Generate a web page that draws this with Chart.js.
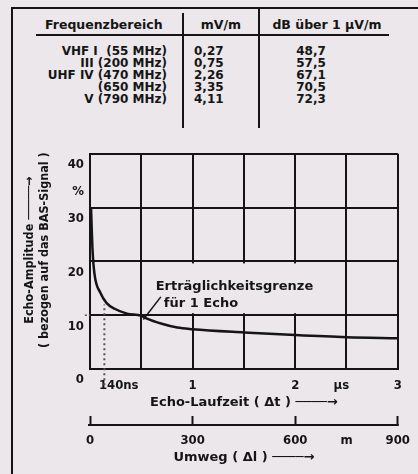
<!DOCTYPE html>
<html>
<head>
<meta charset="utf-8">
<script src="https://cdn.jsdelivr.net/npm/chart.js@4.4.0/dist/chart.umd.min.js"></script>
<style>
body { margin:0; width:418px; height:474px; background:#ebe7ea; overflow:hidden; position:relative;
  font-family:'DejaVu Sans','DejaVu Sans Condensed',sans-serif; font-weight:bold; color:#151515; }
.rahmen { position:absolute; left:11px; top:7px; right:-5px; bottom:-5px; border-top:2px solid #151515; border-left:2px solid #151515; }
.zelle { position:absolute; font-size:12px; line-height:11.9px; white-space:pre; }
.kopf { position:absolute; top:17px; font-size:12.5px; white-space:pre; }
.strich { position:absolute; background:#151515; }
#diagramm { position:absolute; left:0; top:140px; }
</style>
</head>
<body>
<div class="rahmen"></div>
<div class="kopf" style="left:45px">Frequenzbereich</div>
<div class="kopf" style="left:181px;width:80px;text-align:center">mV/m</div>
<div class="kopf" style="left:262px;width:130px;text-align:center">dB über 1 µV/m</div>
<div class="strich" style="left:36px;top:34px;width:353px;height:2px"></div>
<div class="strich" style="left:182px;top:13px;width:2px;height:115px"></div>
<div class="strich" style="left:258px;top:8px;width:2px;height:120px"></div>
<div class="zelle" id="spalte1" style="left:10px;top:46px;width:157px;text-align:right"></div>
<div class="zelle" id="spalte2" style="left:194px;top:46px"></div>
<div class="zelle" id="spalte3" style="left:280px;top:46px;width:62px;text-align:center"></div>
<canvas id="diagramm" width="418" height="334"></canvas>
<script>
// Tabelle
const bereiche = ['VHF I  (55 MHz)', 'III (200 MHz)', 'UHF IV (470 MHz)', '(650 MHz)', 'V (790 MHz)'];
const feldstaerke = ['0,27', '0,75', '2,26', '3,35', '4,11'];
const pegel = ['48,7', '57,5', '67,1', '70,5', '72,3'];

document.getElementById('spalte1').textContent = bereiche.join('\n');
document.getElementById('spalte2').textContent = feldstaerke.join('\n');
document.getElementById('spalte3').textContent = pegel.join('\n');

// Echo-Kurve (µs / %)
const laufzeit = [0.01, 0.025, 0.045, 0.1, 0.16, 0.24, 0.36, 0.5, 0.55, 0.7, 0.85, 1, 1.5, 2, 2.5, 3];
const amplitude = [30, 22, 17.5, 14.2, 12.3, 11.2, 10.3, 9.9, 9.4, 8.4, 7.7, 7.4, 6.8, 6.3, 5.9, 5.7];

// Achsen
const zeitTicks = [0, 0.28, 0.5, 1, 1.5, 2, 2.45, 2.5, 3];
const zeitLabels = ['', '140ns', '', '1', '', '2', 'µs', '', '3'];
const zeitLinie = [true, false, true, true, true, true, false, true, true];
const ampTicks = [0, 10, 20, 30, 35, 40];
const ampLabels = ['0', '10', '20', '30', '%', '40'];
const ampLinie = [true, true, true, true, false, true];
const umwegTicks = [0, 300, 600, 750, 900];
const umwegLabels = ['0', '300', '600', 'm', '900'];
const umwegStrich = [true, true, true, false, true];

const grenzeZeit = 0.14; // 140 ns
const hinweisPfeil = [{x: 0.69, y: 13.4}, {x: 0.52, y: 9.2}];
const grenzeLinks = [{x: -0.05, y: 10}, {x: 0, y: 10}];

const schwarz = '#151515';
const schmal = "'DejaVu Sans Condensed', 'DejaVu Sans', sans-serif";
const breit = "'DejaVu Sans', sans-serif";

// Textfeld "Erträglichkeitsgrenze"
const hinweis = {
    id: 'hinweis',
    beforeDatasetsDraw(chart) {
        const {ctx, scales: {x, y}} = chart;
        ctx.save();
        ctx.fillStyle = '#ebe7ea';
        ctx.fillRect(x.getPixelForValue(0.5) + 2, y.getPixelForValue(20) + 2,
            x.getPixelForValue(2.5) - x.getPixelForValue(0.5) - 4, y.getPixelForValue(10) - y.getPixelForValue(20) - 4);
        ctx.fillStyle = schwarz;
        ctx.font = 'bold 13px ' + breit;
        ctx.textBaseline = 'middle';
        ctx.fillText('Erträglichkeitsgrenze', x.getPixelForValue(0.64), y.getPixelForValue(15.4));
        ctx.fillText('für 1 Echo', x.getPixelForValue(0.72), y.getPixelForValue(12.1));
        ctx.restore();
    },
    afterDraw(chart) {
        // Grundlinie der Umweg-Skala
        const s = chart.scales.x2, ctx = chart.ctx;
        ctx.save();
        ctx.strokeStyle = schwarz;
        ctx.lineWidth = 2;
        ctx.beginPath();
        ctx.moveTo(s.getPixelForValue(0) - 2, s.top + 9);
        ctx.lineTo(s.getPixelForValue(900) + 1, s.top + 9);
        ctx.stroke();
        ctx.restore();
    }
};

new Chart(document.getElementById('diagramm'), {
    type: 'line',
    data: {
        datasets: [
            {
                data: laufzeit.map((t, i) => ({x: t, y: amplitude[i]})),
                borderColor: schwarz,
                borderWidth: 2.5,
                pointRadius: 0,
                cubicInterpolationMode: 'monotone'
            },
            {
                data: [{x: grenzeZeit, y: -3}, {x: grenzeZeit, y: 12}],
                borderColor: '#555',
                borderWidth: 2,
                borderDash: [2, 3],
                pointRadius: 0,
                clip: false
            },
            {
                data: grenzeLinks,
                borderColor: '#555',
                borderWidth: 1.5,
                borderDash: [2, 2],
                pointRadius: 0,
                clip: false
            },
            {
                data: hinweisPfeil,
                borderColor: schwarz,
                borderWidth: 1.5,
                pointRadius: 0
            }
        ]
    },
    options: {
        responsive: false,
        animation: false,
        devicePixelRatio: 1,
        layout: {padding: {left: 0, right: 15, top: 12, bottom: 0}},
        plugins: {legend: {display: false}, tooltip: {enabled: false}},
        scales: {
            x: {
                type: 'linear', position: 'bottom', min: 0, max: 3, weight: 0,
                afterBuildTicks: s => { s.ticks = zeitTicks.map(v => ({value: v})); },
                afterFit: s => { s.height = 47; },
                grid: {
                    color: c => (c.tick && zeitLinie[c.index]) ? schwarz : 'transparent',
                    lineWidth: 2, drawTicks: false
                },
                border: {display: true, color: schwarz, width: 2},
                ticks: {
                    autoSkip: false, maxRotation: 0, padding: 9, color: schwarz,
                    font: {family: schmal, size: 13, weight: 'bold'},
                    callback: (v, i) => zeitLabels[i]
                },
                title: {
                    display: true, text: 'Echo-Laufzeit ( Δt ) ────→', color: schwarz,
                    font: {family: breit, size: 13, weight: 'bold', lineHeight: 1.2},
                    padding: {top: 0, bottom: 6}
                }
            },
            x2: {
                type: 'linear', position: 'bottom', min: 0, max: 900, weight: 1,
                afterBuildTicks: s => { s.ticks = umwegTicks.map(v => ({value: v})); },
                afterFit: s => { s.height = 58; },
                grid: {
                    drawOnChartArea: false, drawTicks: true, tickLength: 9, tickWidth: 2,
                    tickColor: c => (c.tick && umwegStrich[c.index]) ? schwarz : 'transparent'
                },
                border: {display: false},
                ticks: {
                    autoSkip: false, maxRotation: 0, padding: 8, color: schwarz,
                    font: {family: schmal, size: 13, weight: 'bold'},
                    callback: (v, i) => umwegLabels[i]
                },
                title: {
                    display: true, text: 'Umweg ( Δl ) ────→', color: schwarz,
                    font: {family: breit, size: 13, weight: 'bold', lineHeight: 1.2},
                    padding: {top: 0, bottom: 8.5}
                }
            },
            y: {
                type: 'linear', min: 0, max: 40,
                afterBuildTicks: s => { s.ticks = ampTicks.map(v => ({value: v})); },
                afterFit: s => { s.width = 90; },
                grid: {
                    color: c => (c.tick && ampLinie[c.index]) ? schwarz : 'transparent',
                    lineWidth: 2, drawTicks: false
                },
                border: {display: true, color: schwarz, width: 2},
                ticks: {
                    padding: 6, labelOffset: 11, color: schwarz,
                    font: {family: schmal, size: 13, weight: 'bold'},
                    callback: (v, i) => ampLabels[i]
                },
                title: {
                    display: true, color: schwarz,
                    text: ['\u2003\u2003Echo-Amplitude ─────→', '\u2003\u2003( bezogen auf das BAS-Signal )'],
                    font: {family: schmal, size: 12.5, weight: 'bold', lineHeight: 1.2},
                    padding: {top: 22, bottom: 0}
                }
            }
        }
    },
    plugins: [hinweis]
});
</script>
</body>
</html>
